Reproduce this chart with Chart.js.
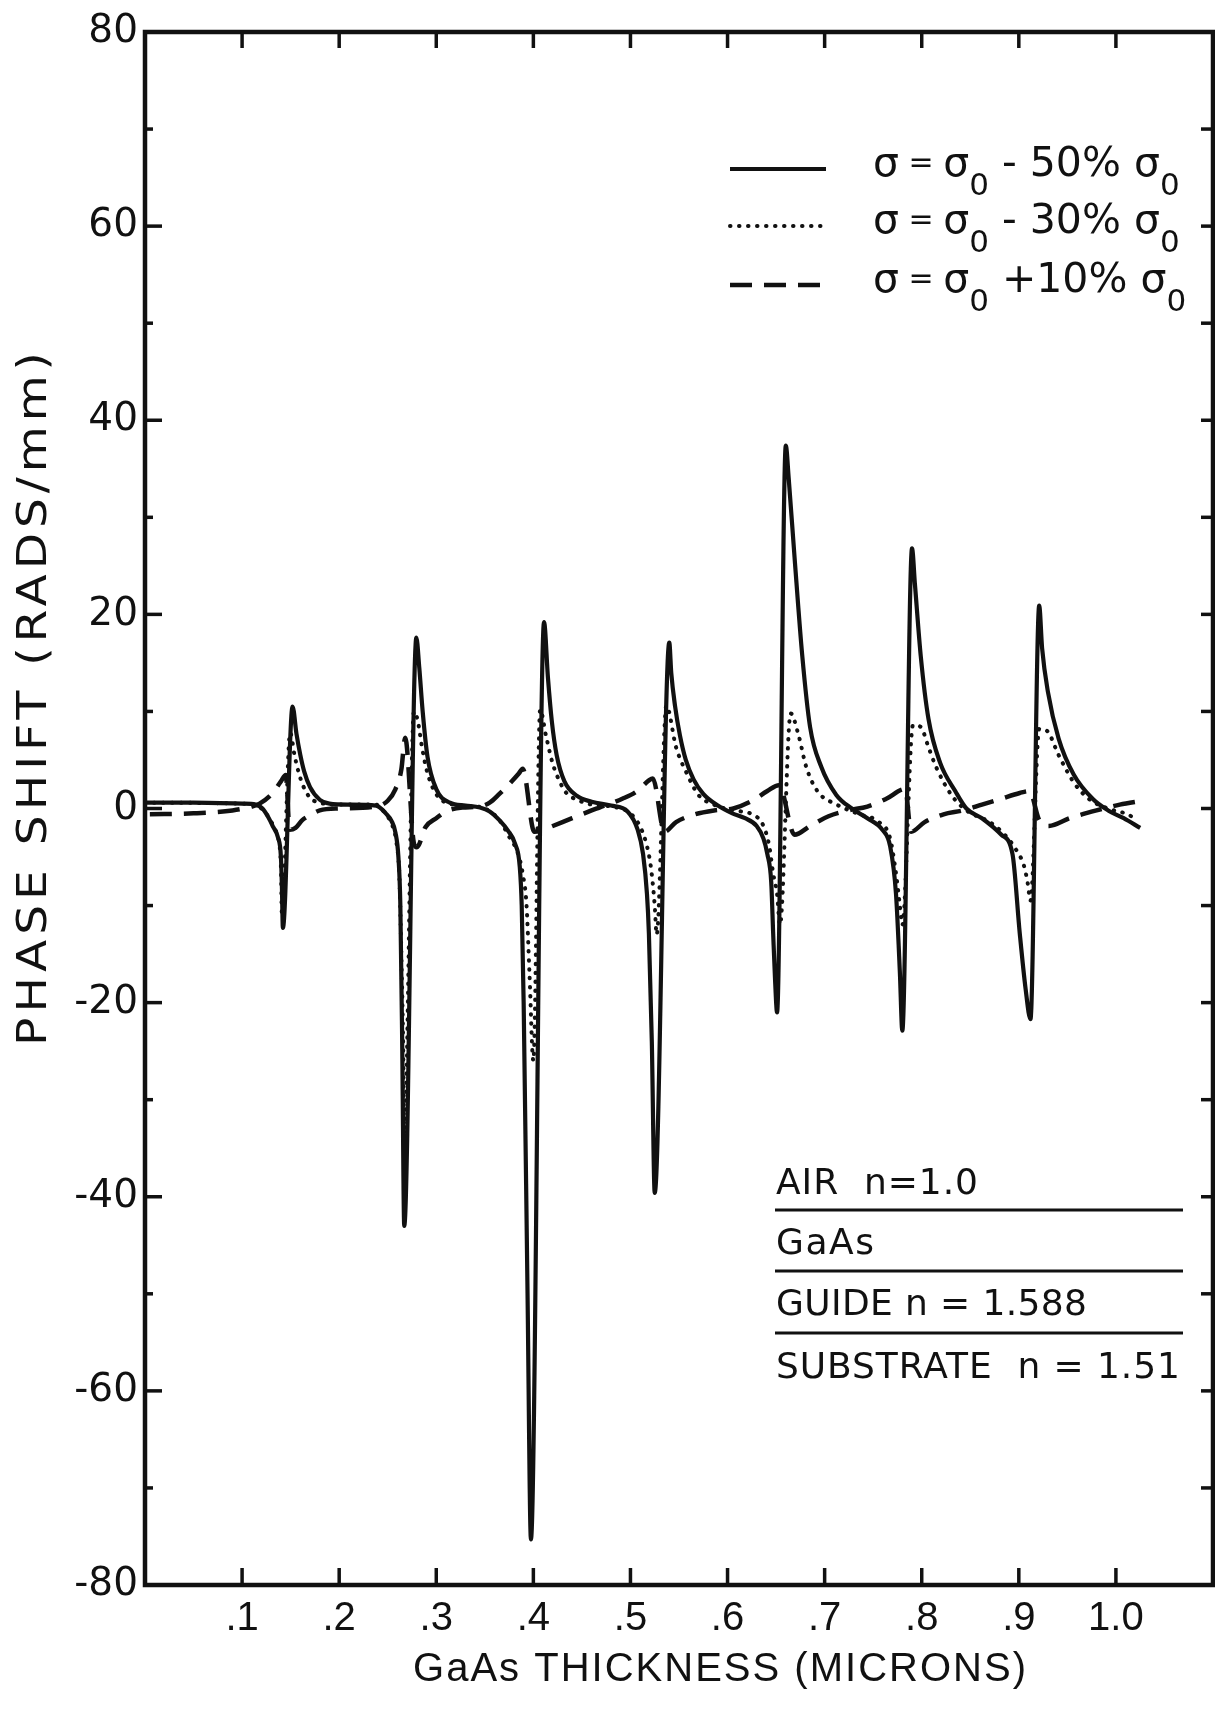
<!DOCTYPE html>
<html>
<head>
<meta charset="utf-8">
<title>Phase shift vs GaAs thickness</title>
<script src="https://cdn.jsdelivr.net/npm/chart.js@4.4.0/dist/chart.umd.min.js"></script>
<style>
  html, body { margin: 0; padding: 0; background: #fff; }
</style>
</head>
<body>
<canvas id="phaseChart" width="1215" height="1712"></canvas>
<script>
// sigma = sigma0 - 50% sigma0 (solid)
const thick50 = [0.000, 0.050, 0.100, 0.114, 0.121, 0.127, 0.132, 0.137, 0.140, 0.141, 0.142,
  0.152, 0.156, 0.160, 0.164, 0.170, 0.180, 0.190, 0.210, 0.238, 0.248, 0.254, 0.258, 0.261, 0.263, 0.265, 0.267,
  0.2795, 0.2825, 0.286, 0.291, 0.300, 0.314, 0.330, 0.345, 0.355, 0.365, 0.374, 0.381, 0.386, 0.388, 0.390, 0.394, 0.3975,
  0.411, 0.415, 0.419, 0.424, 0.432, 0.445, 0.460, 0.480, 0.497, 0.5075, 0.513, 0.517, 0.519, 0.522, 0.525,
  0.540, 0.542, 0.546, 0.551, 0.557, 0.565, 0.575, 0.590, 0.605, 0.618, 0.630, 0.637, 0.641, 0.645, 0.647, 0.649, 0.651,
  0.660, 0.663, 0.669, 0.677, 0.685, 0.6965, 0.712, 0.728, 0.744, 0.7595, 0.7675, 0.7735, 0.7775, 0.780,
  0.790, 0.793, 0.799, 0.807, 0.819, 0.8345, 0.846, 0.862, 0.882, 0.8935, 0.901, 0.907, 0.912,
  0.921, 0.924, 0.930, 0.941, 0.9565, 0.976, 0.992, 1.008, 1.025];
const shift50 = [0.6, 0.6, 0.5, 0.4, 0.0, -0.9, -1.9, -3.0, -5.0, -8.0, -12.3,
  10.5, 7.7, 5.5, 3.8, 2.2, 0.9, 0.5, 0.4, 0.3, -0.5, -1.3, -2.5, -5.0, -10.0, -25.0, -43.0,
  17.6, 14.5, 10.0, 5.3, 2.0, 0.6, 0.3, 0.1, -0.3, -1.2, -2.3, -3.6, -6.0, -10.0, -20.0, -50.0, -75.3,
  19.2, 13.5, 9.0, 5.5, 2.8, 1.3, 0.7, 0.3, -0.3, -2.2, -4.7, -8.8, -12.9, -24.0, -39.6,
  17.1, 14.0, 10.5, 7.5, 5.0, 3.0, 1.5, 0.3, -0.5, -1.0, -1.8, -3.1, -4.7, -7.6, -12.9, -17.8, -21.0,
  37.4, 34.0, 25.9, 15.7, 8.4, 4.3, 1.4, 0.0, -1.0, -2.2, -3.9, -8.8, -16.9, -22.9,
  26.8, 23.1, 15.7, 9.2, 4.7, 1.8, 0.0, -1.0, -2.7, -4.7, -12.9, -18.6, -21.7,
  20.9, 16.5, 12.0, 7.2, 3.5, 1.0, -0.2, -1.0, -2.0];

// sigma = sigma0 - 30% sigma0 (dotted)
const thick30 = [0.000, 0.100, 0.115, 0.122, 0.128, 0.133, 0.138, 0.140, 0.141,
  0.1495, 0.154, 0.158, 0.163, 0.170, 0.180, 0.200, 0.238, 0.248, 0.255, 0.259, 0.262, 0.264, 0.266, 0.267,
  0.277, 0.281, 0.285, 0.290, 0.298, 0.310, 0.330, 0.350, 0.365, 0.375, 0.384, 0.389, 0.393, 0.396, 0.400,
  0.407, 0.413, 0.420, 0.427, 0.434, 0.445, 0.460, 0.480, 0.497, 0.508, 0.516, 0.521, 0.525, 0.527,
  0.537, 0.547, 0.5586, 0.570, 0.586, 0.606, 0.6255, 0.637, 0.643, 0.647, 0.651, 0.654,
  0.665, 0.673, 0.681, 0.6925, 0.7125, 0.736, 0.756, 0.7675, 0.7735, 0.7775, 0.780,
  0.791, 0.799, 0.807, 0.8147, 0.8305, 0.846, 0.870, 0.8855, 0.8975, 0.9053, 0.909, 0.912,
  0.921, 0.929, 0.941, 0.9565, 0.972, 0.992, 1.012, 1.022];
const shift30 = [0.6, 0.5, 0.3, -0.2, -1.0, -2.0, -3.5, -6.0, -11.0,
  7.8, 5.5, 3.8, 2.3, 1.1, 0.6, 0.4, 0.4, -0.6, -1.8, -3.5, -7.0, -15.0, -25.0, -34.0,
  10.0, 9.0, 6.5, 4.0, 1.8, 0.6, 0.3, 0.0, -1.2, -2.9, -4.6, -6.7, -10.0, -17.0, -26.0,
  10.2, 7.5, 4.6, 2.8, 1.6, 0.9, 0.4, 0.2, -0.3, -1.5, -3.5, -6.0, -10.0, -13.0,
  10.6, 6.3, 3.5, 1.4, 0.4, -0.2, -0.6, -1.8, -3.9, -6.7, -8.8, -12.0,
  9.8, 7.6, 4.3, 1.8, 0.4, -0.6, -1.4, -3.1, -6.7, -10.0, -12.0,
  8.6, 8.4, 6.3, 4.3, 1.4, -0.2, -1.4, -2.7, -4.3, -5.9, -7.6, -9.5,
  8.2, 8.0, 5.5, 2.7, 1.0, 0.0, -0.6, -1.2];

// sigma = sigma0 + 10% sigma0 (dashed)
const thick10 = [0.005, 0.050, 0.090, 0.110, 0.118, 0.1315, 0.140, 0.145,
  0.149, 0.155, 0.162, 0.170, 0.180, 0.200, 0.238, 0.250, 0.258, 0.264, 0.268,
  0.277, 0.280, 0.289, 0.300, 0.310, 0.327, 0.344, 0.355, 0.365, 0.375, 0.385, 0.389,
  0.401, 0.410, 0.420, 0.440, 0.460, 0.468, 0.4916, 0.507, 0.519, 0.523,
  0.535, 0.547, 0.5665, 0.586, 0.606, 0.6255, 0.641, 0.653,
  0.669, 0.685, 0.704, 0.724, 0.744, 0.7635, 0.783,
  0.789, 0.803, 0.8225, 0.8425, 0.862, 0.8815, 0.901, 0.911,
  0.921, 0.931, 0.9525, 0.980, 1.004, 1.027];
const shift10 = [-0.6, -0.5, -0.2, 0.2, 0.5, 1.6, 2.8, 3.45,
  -2.2, -2.0, -1.2, -0.7, -0.2, 0.0, 0.2, 0.8, 2.0, 4.0, 7.3,
  -3.6, -4.0, -1.9, -1.0, -0.3, 0.1, 0.2, 0.6, 1.5, 2.5, 3.6, 4.1,
  -2.4, -2.2, -1.8, -1.0, -0.2, 0.1, 1.0, 1.8, 2.9, 3.1,
  -2.4, -1.4, -0.6, -0.2, 0.0, 0.8, 1.8, 2.4,
  -2.7, -1.8, -0.8, -0.2, 0.2, 1.0, 2.0,
  -2.4, -1.4, -0.6, -0.2, 0.4, 1.0, 1.6, 1.8,
  -1.2, -1.8, -1.0, -0.2, 0.4, 0.8];

const xTickValues = [0.1, 0.2, 0.3, 0.4, 0.5, 0.6, 0.7, 0.8, 0.9, 1.0];
const xTickLabels = ['.1', '.2', '.3', '.4', '.5', '.6', '.7', '.8', '.9', '1.0'];
const legendSigns = ['-', '-', '+'];
const legendPercents = ['50%', '30%', '10%'];
const layerLabels = ['AIR  n=1.0', 'GaAs', 'GUIDE n = 1.588', 'SUBSTRATE  n = 1.51'];
const layerWidths = [202, 98, 311, 404];

const sans = "'DejaVu Sans', 'Noto Sans', sans-serif";
const narrow = "'Liberation Sans Narrow', 'Liberation Sans', sans-serif";
const ink = '#111';

function points(xs, ys) {
  return xs.map((x, i) => ({ x: x, y: ys[i] }));
}

function line(ctx, x1, y1, x2, y2) {
  ctx.beginPath();
  ctx.moveTo(x1, y1);
  ctx.lineTo(x2, y2);
  ctx.stroke();
}

// spread letters so a string covers a given width
function spaceTo(ctx, text, width) {
  ctx.letterSpacing = '0px';
  const w = ctx.measureText(text).width;
  const s = Math.max(-1, (width - w) / (text.length - 1));
  ctx.letterSpacing = s + 'px';
}

// box frame with inward ticks on all four sides
const framePlugin = {
  id: 'frame',
  afterDraw(chart) {
    const { ctx, chartArea: a, scales: { x, y } } = chart;
    ctx.save();
    ctx.strokeStyle = ink;
    ctx.lineWidth = 4.5;
    ctx.strokeRect(a.left, a.top, a.right - a.left, a.bottom - a.top);
    ctx.lineWidth = 3.5;
    xTickValues.forEach(v => {
      const px = x.getPixelForValue(v);
      line(ctx, px, a.bottom, px, a.bottom - 17);
      line(ctx, px, a.top, px, a.top + 16);
    });
    for (let v = -70; v <= 70; v += 10) {
      const py = y.getPixelForValue(v);
      line(ctx, a.left, py, a.left + (v % 20 === 0 ? 17 : 8), py);
      line(ctx, a.right, py, a.right - 12, py);
    }
    ctx.restore();
  }
};

// axis titles, legend with subscripts, layer stack note
const notesPlugin = {
  id: 'notes',
  afterDraw(chart) {
    const { ctx, chartArea: a } = chart;
    ctx.save();
    ctx.fillStyle = ink;
    ctx.strokeStyle = ink;
    ctx.textBaseline = 'alphabetic';

    // x title
    ctx.font = '40px ' + narrow;
    ctx.textAlign = 'left';
    const xt = 'GaAs THICKNESS (MICRONS)';
    spaceTo(ctx, xt, 613);
    ctx.fillText(xt, 413, 1681);

    // y title, glyphs widened a little, rest made up by spacing
    ctx.save();
    ctx.translate(46, 699);
    ctx.rotate(-Math.PI / 2);
    ctx.scale(1.15, 1);
    ctx.font = '41px ' + sans;
    const yt = 'PHASE SHIFT (RADS/mm)';
    spaceTo(ctx, yt, 694 / 1.15);
    ctx.fillText(yt, -347 / 1.15, 0);
    ctx.restore();
    ctx.letterSpacing = '0px';

    // legend
    const rows = [137, 194, 253];
    chart.data.datasets.forEach((ds, i) => {
      const ly = a.top + rows[i];
      ctx.save();
      ctx.lineWidth = ds.borderWidth;
      ctx.setLineDash(ds.borderDash);
      ctx.lineCap = ds.borderCapStyle;
      line(ctx, a.left + 585, ly, a.left + 681, ly);
      ctx.restore();

      let cx = a.left + 728;
      const base = ly + 7;
      const put = (t, size, dy) => {
        ctx.font = size + 'px ' + sans;
        ctx.fillText(t, cx, base + dy);
        cx += ctx.measureText(t).width;
      };
      put('σ', 41, 0);
      put(' = ', 30, -4);
      put('σ', 41, 0);
      put('0', 31, 19);
      put(legendSigns[i] === '+' ? ' +' : ' - ', 41, 0);
      put(legendPercents[i] + ' ', 41, 0);
      put('σ', 41, 0);
      put('0', 31, 19);
    });

    // air / GaAs / guide / substrate stack
    const stackLines = [1178, 1239, 1301];
    const stackText = [1162, 1222, 1283, 1346];
    ctx.lineWidth = 3;
    stackLines.forEach(d => line(ctx, a.left + 630, a.top + d, a.left + 1038, a.top + d));
    ctx.font = '36px ' + sans;
    layerLabels.forEach((t, i) => {
      spaceTo(ctx, t, layerWidths[i]);
      ctx.fillText(t, a.left + 631, a.top + stackText[i]);
    });
    ctx.restore();
  }
};

new Chart(document.getElementById('phaseChart'), {
  type: 'line',
  data: {
    datasets: [
      {
        label: 'σ = σ0 - 50% σ0',
        data: points(thick50, shift50),
        borderColor: ink,
        borderWidth: 4.2,
        borderDash: [],
        borderCapStyle: 'butt',
        pointRadius: 0,
        cubicInterpolationMode: 'monotone'
      },
      {
        label: 'σ = σ0 - 30% σ0',
        data: points(thick30, shift30),
        borderColor: ink,
        borderWidth: 4,
        borderDash: [0.5, 8.5],
        borderCapStyle: 'round',
        pointRadius: 0,
        cubicInterpolationMode: 'monotone'
      },
      {
        label: 'σ = σ0 +10% σ0',
        data: points(thick10, shift10),
        borderColor: ink,
        borderWidth: 4.5,
        borderDash: [22, 12],
        borderCapStyle: 'butt',
        pointRadius: 0,
        cubicInterpolationMode: 'monotone'
      }
    ]
  },
  options: {
    responsive: false,
    animation: false,
    devicePixelRatio: 1,
    layout: { padding: { left: 0, top: 32, right: 2, bottom: 0 } },
    plugins: { legend: { display: false }, tooltip: { enabled: false } },
    scales: {
      x: {
        type: 'linear',
        min: 0,
        max: 1.1,
        afterFit: s => { s.height = 127; },
        afterBuildTicks: s => { s.ticks = xTickValues.map(v => ({ value: v })); },
        grid: { display: false, drawTicks: false },
        border: { display: false },
        ticks: {
          color: ink,
          padding: 10,
          maxRotation: 0,
          autoSkip: false,
          font: { family: narrow, size: 40 },
          callback: v => xTickLabels[xTickValues.findIndex(t => Math.abs(t - v) < 1e-6)] || ''
        }
      },
      y: {
        min: -80,
        max: 80,
        afterFit: s => { s.width = 145; },
        grid: { display: false, drawTicks: false },
        border: { display: false },
        ticks: {
          color: ink,
          stepSize: 20,
          padding: 7,
          font: { family: sans, size: 39 }
        }
      }
    }
  },
  plugins: [framePlugin, notesPlugin]
});
</script>
</body>
</html>
